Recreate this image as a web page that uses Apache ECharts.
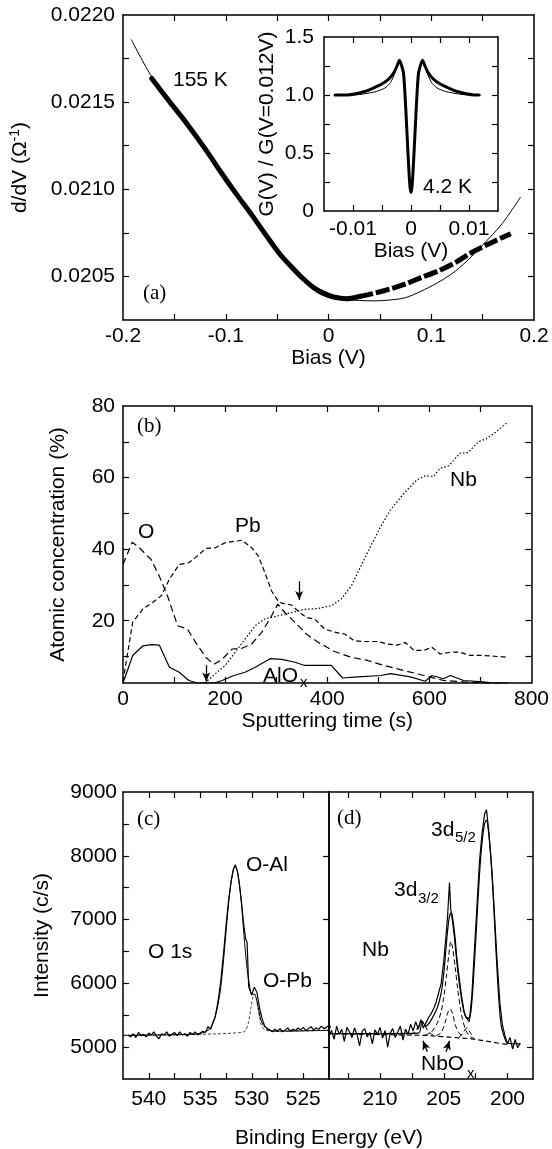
<!DOCTYPE html>
<html>
<head>
<meta charset="utf-8">
<script src="https://cdn.jsdelivr.net/npm/echarts@6/dist/echarts.min.js"></script>
<style>
  html, body { margin: 0; padding: 0; background: #fff; }
  #chart { width: 552px; height: 1149px; }
</style>
</head>
<body>
<div id="chart"></div>
<script>
// (a) 155 K conductance, data and fit
const biasData = [-0.172, -0.155, -0.138, -0.12, -0.106, -0.09, -0.0735, -0.06, -0.0476, -0.035, -0.0249, -0.015, -0.0055, 0.005, 0.0172, 0.03, 0.043, 0.06, 0.0754, 0.09, 0.1078, 0.125, 0.1401, 0.16, 0.1774];
const gData = [0.021636, 0.021505, 0.021378, 0.021232, 0.021109, 0.020975, 0.020843, 0.020730, 0.020630, 0.020548, 0.020488, 0.020438, 0.020403, 0.020382, 0.020372, 0.020385, 0.020401, 0.020428, 0.020458, 0.020493, 0.020534, 0.020585, 0.02064, 0.020698, 0.020745];
const biasFit = [-0.192, -0.172, -0.15, -0.12, -0.09, -0.06, -0.035, -0.015, 0, 0.015, 0.03, 0.045, 0.06, 0.075, 0.09, 0.105, 0.12, 0.135, 0.15, 0.169, 0.187];
const gFit = [0.02186, 0.021645, 0.02147, 0.021235, 0.02098, 0.020735, 0.020555, 0.02045, 0.020405, 0.02037, 0.020362, 0.02036, 0.020365, 0.020378, 0.020415, 0.02046, 0.020515, 0.02059, 0.02068, 0.020803, 0.020956];

// inset, 4.2 K normalised conductance
const insetBias = [-0.0131, -0.011, -0.0095, -0.008, -0.0065, -0.0052, -0.004, -0.003, -0.0024, -0.002, -0.0013, -0.0009, -0.0005, -0.0002, 0, 0.0002, 0.0005, 0.0009, 0.0013, 0.002, 0.0024, 0.003, 0.004, 0.0052, 0.0065, 0.008, 0.0095, 0.011, 0.0117];
const insetG = [1.0, 1.0, 1.01, 1.03, 1.06, 1.09, 1.13, 1.19, 1.25, 1.30, 1.19, 0.88, 0.48, 0.22, 0.16, 0.22, 0.48, 0.88, 1.19, 1.30, 1.25, 1.19, 1.13, 1.09, 1.06, 1.03, 1.01, 1.0, 1.0];
const insetFitBias = [-0.0131, -0.01, -0.008, -0.006, -0.0045, -0.0035, -0.0027, -0.002, -0.0013, -0.0009, -0.0005, -0.0002, 0, 0.0002, 0.0005, 0.0009, 0.0013, 0.002, 0.0027, 0.0035, 0.0045, 0.006, 0.008, 0.01, 0.0121];
const insetFitG = [1.0, 1.0, 1.01, 1.03, 1.06, 1.11, 1.2, 1.30, 1.19, 0.88, 0.48, 0.22, 0.16, 0.22, 0.48, 0.88, 1.19, 1.30, 1.2, 1.11, 1.06, 1.03, 1.01, 1.0, 1.0];

// (b) depth profile
const tO = [0, 18, 29, 55, 71, 87, 107, 126, 142, 162, 178, 194, 214, 233, 252, 272, 291, 303, 317, 337, 359, 382, 414, 447, 479, 511, 550, 589, 628, 667, 705, 754];
const concO = [35.7, 41.9, 40.8, 37.1, 32.5, 27, 18.6, 17.7, 14, 9.8, 7.8, 9.2, 12.1, 12.3, 13.5, 16.8, 21.4, 24.6, 22.3, 19.5, 16.3, 14, 11.4, 9.8, 8.9, 7.5, 6.1, 4.7, 3.3, 2.9, 2.6, 2.4];
const tPb = [0, 19, 39, 58, 75, 91, 110, 129, 149, 162, 181, 200, 233, 252, 265, 278, 291, 304, 311, 330, 346, 359, 375, 395, 414, 434, 453, 472, 498, 518, 537, 553, 570, 589, 605, 621, 641, 660, 680, 705, 754];
const concPb = [3, 19.6, 23.3, 25.1, 27, 31.6, 35.7, 36.2, 38.5, 40.2, 40.4, 41.8, 42.5, 40.4, 38.1, 33.4, 28.3, 25.5, 24.9, 24.4, 22.3, 20.9, 20.5, 17.7, 16.8, 16.3, 14.4, 14.2, 14.2, 13.5, 13.2, 13.9, 11.7, 11.7, 12.6, 10.7, 11.2, 11.2, 10.3, 10.3, 9.8];
const tNb = [160, 200, 220, 239, 259, 278, 304, 330, 356, 382, 408, 427, 447, 466, 485, 505, 524, 550, 576, 592, 608, 621, 638, 660, 676, 696, 712, 731, 754];
const concNb = [2.6, 7.5, 11.2, 14.9, 18.6, 20.5, 21.4, 22.3, 23.2, 23.4, 24.2, 26, 29.7, 35.3, 40.8, 46.4, 51, 55.6, 59.4, 60.5, 60.3, 62.6, 63.3, 66.8, 67, 70, 70.9, 72.8, 75.6];
const tAl = [0, 19, 39, 55, 71, 91, 110, 129, 146, 162, 178, 194, 217, 239, 259, 288, 311, 337, 356, 382, 408, 430, 460, 505, 524, 563, 592, 605, 628, 641, 667, 705, 725, 754];
const concAl = [2.6, 10.3, 13, 13.3, 13.2, 7, 5.6, 3.3, 2.6, 2.6, 2.6, 3.3, 4.7, 5.6, 7, 9.4, 9.2, 8.4, 7.5, 7.5, 7.5, 4, 4.3, 4.7, 5.2, 4.3, 3.1, 4.7, 3.8, 4.7, 3.3, 2.9, 2.6, 2.6];

// (c) O 1s spectrum
const eO = [542.0, 541.75, 541.5, 541.25, 541.0, 540.75, 540.5, 540.25, 540.0, 539.75, 539.5, 539.25, 539.0, 538.75, 538.5, 538.25, 538.0, 537.75, 537.5, 537.25, 537.0, 536.75, 536.5, 536.25, 536.0, 535.75, 535.5, 535.25, 535.0, 534.75, 534.5,
  534.25, 534.0, 533.8, 533.6, 533.4, 533.2, 533.0, 532.75, 532.5, 532.25, 532.0, 531.8, 531.6, 531.4, 531.2, 531.0, 530.8, 530.6, 530.45, 530.3, 530.0, 529.75, 529.5, 529.25, 529.0, 528.75,
  528.5, 528.25, 528.0, 527.75, 527.5, 527.25, 527.0, 526.75, 526.5, 526.25, 526.0, 525.75, 525.5, 525.25, 525.0, 524.75, 524.5, 524.25, 524.0, 523.75, 523.5, 523.25, 523.0, 522.75, 522.5, 522.25];
const iO = [5190, 5160, 5210, 5150, 5230, 5180, 5200, 5160, 5220, 5190, 5240, 5170, 5130, 5210, 5190, 5240, 5170, 5200, 5230, 5180, 5240, 5190, 5210, 5170, 5230, 5200, 5240, 5190, 5220, 5250, 5230,
  5320, 5280, 5380, 5450, 5600, 5800, 6050, 6450, 6900, 7300, 7600, 7780, 7860, 7760, 7560, 7280, 6950, 6700, 6640, 5950, 5820, 5940, 5860, 5620, 5450, 5330,
  5290, 5270, 5240, 5280, 5250, 5290, 5240, 5270, 5300, 5250, 5280, 5260, 5300, 5270, 5310, 5260, 5290, 5320, 5270, 5300, 5280, 5330, 5290, 5310, 5340, 5300];
const eOFit = [542.5, 536, 535, 534.5, 534, 533.5, 533, 532.5, 532.25, 532, 531.75, 531.6, 531.4, 531.2, 531, 530.75, 530.5, 530.25, 530, 529.75, 529.5, 529.25, 529, 528.5, 528, 525, 522.2];
const iOFit = [5185, 5200, 5215, 5240, 5300, 5500, 5950, 6800, 7250, 7600, 7800, 7830, 7760, 7550, 7250, 6750, 6300, 6000, 5820, 5830, 5720, 5520, 5380, 5280, 5250, 5255, 5265];
const eOPb = [542.5, 538, 534, 531, 530.6, 530.3, 530.1, 529.9, 529.75, 529.6, 529.4, 529.2, 529.0, 528.7, 528.3, 527.5, 525, 522.2];
const iOPb = [5180, 5190, 5205, 5230, 5260, 5400, 5600, 5780, 5830, 5800, 5620, 5430, 5320, 5270, 5255, 5250, 5255, 5265];

// (d) Nb 3d spectrum
const eNb = [214.2, 214.0, 213.8, 213.6, 213.4, 213.2, 213.0, 212.8, 212.6, 212.4, 212.2, 212.0, 211.8, 211.6, 211.4, 211.2, 211.0, 210.8, 210.6, 210.4, 210.2, 210.0, 209.8, 209.6, 209.4, 209.2, 209.0, 208.8, 208.6, 208.4, 208.2, 208.0, 207.8, 207.6, 207.4, 207.2, 207.0, 206.8, 206.6, 206.4, 206.2, 206.0, 205.8, 205.6, 205.4, 205.2, 205.0, 204.8, 204.7, 204.55, 204.45, 204.35, 204.25, 204.1, 204.0, 203.8, 203.6, 203.4, 203.2, 203.0, 202.8, 202.6, 202.4, 202.2, 202.0, 201.8, 201.65, 201.5, 201.35, 201.2, 201.0, 200.8, 200.6, 200.4, 200.2, 200.0, 199.8, 199.6, 199.4, 199.2, 199.0];
const iNb = [5300, 5180, 5260, 5120, 5330, 5200, 5280, 5090, 5310, 5240, 5150, 5300, 5200, 5020, 5250, 5290, 5160, 5230, 5050, 5270, 5200, 5310, 5140, 5260, 5000, 5220, 5290, 5150, 5240, 5330, 5110, 5280, 5200, 5360, 5250, 5400, 5280, 5430, 5300, 5380, 5460, 5520, 5600, 5700, 5850, 6000, 6350, 6800, 7050, 7580, 7150, 7080, 6950, 6700, 6450, 6100, 5800, 5550, 5450, 5400, 5800, 6500, 7200, 7900, 8350, 8650, 8720, 8450, 8100, 7700, 7000, 6300, 5700, 5350, 5180, 5050, 5150, 4970, 5120, 4990, 5060];
const eNbFit = [214.2, 207, 206.7, 206.4, 206, 205.5, 205.2, 205, 204.8, 204.6, 204.45, 204.3, 204.1, 203.9, 203.6, 203.3, 203.0, 202.8, 202.6, 202.4, 202.2, 202.0, 201.8, 201.65, 201.5, 201.3, 201.1, 200.9, 200.7, 200.5, 200.2, 200.0, 199.0];
const iNbFit = [5210, 5220, 5400, 5330, 5420, 5620, 5850, 6150, 6600, 7000, 7100, 6950, 6600, 6200, 5750, 5480, 5450, 5700, 6300, 7000, 7700, 8200, 8500, 8560, 8400, 7950, 7300, 6500, 5800, 5350, 5130, 5060, 5050];
const eBase = [214.2, 206.5, 202.8, 200.5, 200.0];
const iBase = [5210, 5185, 5130, 5055, 5040];
const eMetal = [206.5, 206, 205.5, 205.2, 205, 204.8, 204.6, 204.45, 204.3, 204.1, 203.9, 203.6, 203.3, 203, 202.7];
const iMetal = [5185, 5230, 5380, 5560, 5780, 6100, 6450, 6660, 6550, 6250, 5900, 5500, 5280, 5180, 5140];
const eOx1 = [205.6, 205.2, 204.9, 204.7, 204.5, 204.3, 204.1, 203.8, 203.5];
const iOx1 = [5175, 5230, 5380, 5530, 5600, 5520, 5350, 5220, 5170];
const eOx2 = [207.6, 207.2, 206.9, 206.7, 206.5, 206.2, 205.8];
const iOx2 = [5190, 5250, 5360, 5410, 5350, 5240, 5185];
const eOx3 = [203.8, 203.5, 203.2, 202.9, 202.6];
const iOx3 = [5150, 5220, 5300, 5220, 5140];

const SANS = '"Liberation Sans", Arial, sans-serif';
const SERIF = '"Liberation Serif", "Times New Roman", serif';
const FS = 21;

const zip = (xs, ys) => xs.map((x, i) => [x, ys[i]]);

function axis(gridIndex, position, min, max, ticks, labels, fmt, extra) {
    return Object.assign({
        type: 'value', gridIndex, position, min, max,
        axisLine: { show: true, onZero: false, lineStyle: { color: '#000', width: 1.5 } },
        axisTick: ticks
            ? { show: true, inside: true, length: 6, customValues: ticks, lineStyle: { color: '#000', width: 1.2 } }
            : { show: false },
        axisLabel: labels
            ? { show: true, customValues: labels, formatter: fmt || (v => String(v)), color: '#000', fontFamily: SANS, fontSize: FS, margin: 8 }
            : { show: false },
        splitLine: { show: false },
        nameTextStyle: { color: '#000', fontFamily: SANS, fontSize: FS }
    }, extra || {});
}

// each grid g owns xAxis/yAxis 2g (bottom/left) and 2g+1 (top/right)
function line(g, xs, ys, style, extra) {
    return Object.assign({
        type: 'line', xAxisIndex: 2 * g, yAxisIndex: 2 * g,
        data: zip(xs, ys), symbol: 'none', animation: false, silent: true,
        lineStyle: Object.assign({ color: '#000', width: 1.2 }, style)
    }, extra || {});
}

function arrows(pairs) {
    return {
        silent: true, animation: false, symbol: ['none', 'arrow'], symbolSize: [6, 9],
        label: { show: false },
        lineStyle: { color: '#000', width: 1.3, type: 'solid' },
        data: pairs.map(p => [{ coord: p[0] }, { coord: p[1] }])
    };
}

function text(x, y, str, size, family, align) {
    const a = align || 'left';
    return {
        type: 'text', x, y, silent: true,
        style: {
            text: str, fill: '#000', font: (size || FS) + 'px ' + (family || SANS),
            textAlign: a, textVerticalAlign: 'middle', align: a, verticalAlign: 'middle'
        }
    };
}

const fmtA = v => v === 0 ? '0' : v.toFixed(1);
const fmtAy = v => v.toFixed(4);
const fmtIx = v => v === 0 ? '0' : v.toFixed(2);
const fmtIy = v => v === 0 ? '0' : v.toFixed(1);
const lbl = (values, fmt, margin) => ({ show: true, customValues: values, formatter: fmt || (v => String(v)), color: '#000', fontFamily: SANS, fontSize: FS, margin });

// the 155 K data get sparser past the minimum, drawn there as a broken thick line
const split = biasData.findIndex(v => v >= 0.03);
const aDense = [biasData.slice(0, split + 1), gData.slice(0, split + 1)];
const aSparse = [biasData.slice(split), gData.slice(split)];

const el = document.getElementById('chart');
const chart = echarts.init(el, null, { renderer: 'canvas' });

chart.setOption({
    backgroundColor: '#fff',
    animation: false,
    grid: [
        { left: 123, top: 15, width: 411, height: 305 },
        { left: 324, top: 37, width: 174, height: 174 },
        { left: 123, top: 406, width: 411, height: 277 },
        { left: 123, top: 792, width: 206, height: 287 },
        { left: 329, top: 792, width: 204, height: 287 }
    ],
    xAxis: [
        axis(0, 'bottom', -0.2, 0.2, [-0.15, -0.1, -0.05, 0, 0.05, 0.1, 0.15], [-0.2, -0.1, 0, 0.1, 0.2], fmtA,
            { name: 'Bias (V)', nameLocation: 'middle', nameGap: 28, axisLabel: lbl([-0.2, -0.1, 0, 0.1, 0.2], fmtA, 6) }),
        axis(0, 'top', -0.2, 0.2, [-0.15, -0.1, -0.05, 0, 0.05, 0.1, 0.15], null),
        axis(1, 'bottom', -0.015, 0.015, [-0.01, -0.005, 0, 0.005, 0.01], [-0.01, 0, 0.01], fmtIx,
            { name: 'Bias (V)', nameLocation: 'middle', nameGap: 27 }),
        axis(1, 'top', -0.015, 0.015, [-0.01, -0.005, 0, 0.005, 0.01], null),
        axis(2, 'bottom', 0, 800, [100, 200, 300, 400, 500, 600, 700], [0, 200, 400, 600, 800], null,
            { name: 'Sputtering time (s)', nameLocation: 'middle', nameGap: 28, axisLabel: lbl([0, 200, 400, 600, 800], null, 6) }),
        axis(2, 'top', 0, 800, [100, 200, 300, 400, 500, 600, 700], null),
        axis(3, 'bottom', 522.5, 542.5, [525, 527.5, 530, 532.5, 535, 537.5, 540], [525, 530, 535, 540], null,
            { inverse: true, axisLabel: lbl([525, 530, 535, 540], null, 10) }),
        axis(3, 'top', 522.5, 542.5, [525, 527.5, 530, 532.5, 535, 537.5, 540], null, null, { inverse: true }),
        axis(4, 'bottom', 198, 214, [200, 202.5, 205, 207.5, 210, 212.5], [200, 205, 210], null,
            { inverse: true, axisLabel: lbl([200, 205, 210], null, 10) }),
        axis(4, 'top', 198, 214, [200, 202.5, 205, 207.5, 210, 212.5], null, null, { inverse: true })
    ],
    yAxis: [
        axis(0, 'left', 0.02025, 0.022, [0.0205, 0.02075, 0.021, 0.02125, 0.0215, 0.02175], [0.0205, 0.021, 0.0215, 0.022], fmtAy, {
            name: '{t|d/dV (Ω}{s|-1}{t|)}', nameLocation: 'middle', nameGap: 91,
            nameTextStyle: {
                color: '#000', fontFamily: SANS, fontSize: FS,
                rich: {
                    t: { color: '#000', fontFamily: SANS, fontSize: FS },
                    s: { color: '#000', fontFamily: SANS, fontSize: 14, padding: [0, 0, 10, 0] }
                }
            }
        }),
        axis(0, 'right', 0.02025, 0.022, [0.0205, 0.02075, 0.021, 0.02125, 0.0215, 0.02175], null),
        axis(1, 'left', 0, 1.5, [0.25, 0.5, 0.75, 1, 1.25], [0, 0.5, 1, 1.5], fmtIy,
            { name: 'G(V) / G(V=0.012V)', nameLocation: 'middle', nameGap: 46, axisLabel: lbl([0, 0.5, 1, 1.5], fmtIy, 10) }),
        axis(1, 'right', 0, 1.5, [0.25, 0.5, 0.75, 1, 1.25], null),
        axis(2, 'left', 2.6, 80, [10, 20, 30, 40, 50, 60, 70], [20, 40, 60, 80], null,
            { name: 'Atomic concentration (%)', nameLocation: 'middle', nameGap: 54 }),
        axis(2, 'right', 2.6, 80, [10, 20, 30, 40, 50, 60, 70], null),
        axis(3, 'left', 4500, 9000, [5000, 5500, 6000, 6500, 7000, 7500, 8000, 8500], [5000, 6000, 7000, 8000, 9000], null,
            { name: 'Intensity (c/s)', nameLocation: 'middle', nameGap: 70, axisLabel: lbl([5000, 6000, 7000, 8000, 9000], null, 6) }),
        axis(3, 'right', 4500, 9000, [5000, 6000, 7000, 8000], null),
        axis(4, 'left', 4500, 9000, null, null),
        axis(4, 'right', 4500, 9000, [5000, 6000, 7000, 8000], null)
    ],
    series: [
        // (a)
        line(0, biasFit, gFit, { width: 1 }, { smooth: 0.3 }),
        line(0, aDense[0], aDense[1], { width: 5, cap: 'round', join: 'round' }, { smooth: 0.3 }),
        line(0, aSparse[0], aSparse[1], { width: 5, type: [14, 3], join: 'round' }, { smooth: 0.3 }),
        // inset
        line(1, insetFitBias, insetFitG, { width: 1 }, { smooth: 0.2 }),
        line(1, insetBias, insetG, { width: 3, cap: 'round', join: 'round' }, { smooth: 0.2 }),
        // (b)
        line(2, tO, concO, { type: [7, 4], width: 1.2 }),
        line(2, tPb, concPb, { type: [5, 3], width: 1.2 }),
        line(2, tNb, concNb, { type: [1.5, 2], width: 1.2 }, {
            markLine: arrows([[[345, 31], [345, 25.8]]])
        }),
        line(2, tAl, concAl, { width: 1.2 }, {
            markLine: arrows([[[163, 7.6], [163, 3.0]]])
        }),
        // (c)
        line(3, eOPb, iOPb, { type: [3, 2], width: 1, color: '#444' }, { smooth: 0.3 }),
        line(3, eOFit, iOFit, { width: 1 }, { smooth: 0.3 }),
        line(3, eO, iO, { width: 1.2 }),
        // (d)
        line(4, eMetal, iMetal, { type: [5, 3], width: 1 }, { smooth: 0.3 }),
        line(4, eOx1, iOx1, { type: [5, 3], width: 1 }, { smooth: 0.3 }),
        line(4, eOx2, iOx2, { type: [5, 3], width: 1 }, { smooth: 0.3 }),
        line(4, eOx3, iOx3, { type: [5, 3], width: 1 }, { smooth: 0.3 }),
        line(4, eBase, iBase, { type: [5, 3], width: 1.2 }, {
            markLine: arrows([[[206.29, 4927], [206.63, 5098]], [[204.81, 4927], [204.55, 5098]]])
        }),
        line(4, eNbFit, iNbFit, { width: 1.2 }, { smooth: 0.3 }),
        line(4, eNb, iNb, { width: 1.2 })
    ],
    graphic: [
        text(173, 80, '155 K'),
        text(143, 293, '(a)', FS, SERIF),
        text(423, 187, '4.2 K'),
        text(137, 426, '(b)', FS, SERIF),
        text(138, 532, 'O'),
        text(235, 526, 'Pb'),
        text(450, 480, 'Nb'),
        text(263, 676, 'AlO'),
        text(300, 683, 'x', 15),
        text(137, 819, '(c)', FS, SERIF),
        text(246, 865, 'O-Al'),
        text(148, 952, 'O 1s'),
        text(263, 981, 'O-Pb'),
        text(337, 818, '(d)', FS, SERIF),
        text(431, 830, '3d'),
        text(455, 838, '5/2', 15),
        text(394, 890, '3d'),
        text(418, 899, '3/2', 15),
        text(362, 950, 'Nb'),
        text(421, 1064, 'NbO'),
        text(467, 1074, 'x', 15),
        text(329, 1138, 'Binding Energy (eV)', FS, SANS, 'center')
    ]
});

window.addEventListener('resize', () => chart.resize());
</script>
</body>
</html>
